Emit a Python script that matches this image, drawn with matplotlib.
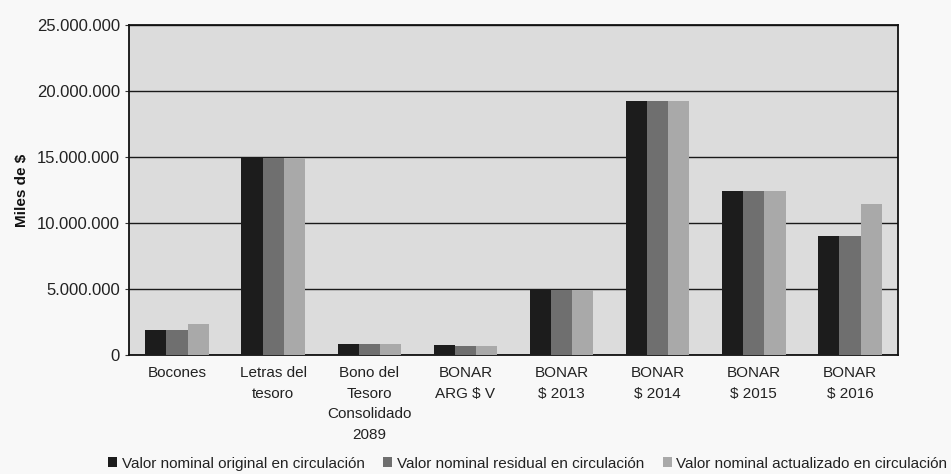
import matplotlib
matplotlib.use("Agg")
import matplotlib.pyplot as plt
import numpy as np
from matplotlib.ticker import FuncFormatter
from matplotlib import font_manager

categories = ["Bocones", "Letras del\ntesoro", "Bono del\nTesoro\nConsolidado\n2089",
              "BONAR\nARG $ V", "BONAR\n$ 2013", "BONAR\n$ 2014", "BONAR\n$ 2015", "BONAR\n$ 2016"]
original = [1.9, 14.9, 0.85, 0.72, 4.9, 19.25, 12.45, 9.05]
residual = [1.9, 14.9, 0.82, 0.70, 4.9, 19.25, 12.45, 9.05]
actualizado = [2.35, 14.9, 0.82, 0.70, 4.9, 19.25, 12.45, 11.45]
series_names = ["Valor nominal original en circulación",
                "Valor nominal residual en circulación",
                "Valor nominal actualizado en circulación"]

names = {f.name for f in font_manager.fontManager.ttflist}
fam = ["Liberation Sans Narrow", "DejaVu Sans"] if "Liberation Sans Narrow" in names else ["Liberation Sans", "DejaVu Sans"]
plt.rcParams['font.family'] = fam

fig = plt.figure(figsize=(9.51, 4.74), dpi=100)
fig.patch.set_facecolor("#f8f8f8")
ax = fig.add_axes([129/951, 1-355/474, (898-129)/951, (355-25)/474])
ax.set_facecolor("#dcdcdc")

x = np.arange(len(categories))
w = 0.22
colors = ["#1c1c1c", "#6f6f6f", "#a9a9a9"]
for i, (vals, c, n) in enumerate(zip([original, residual, actualizado], colors, series_names)):
    ax.bar(x + (i-1)*w, np.array(vals)*1e6, width=w, color=c, label=n, zorder=3)

ax.set_ylim(0, 25e6)
ax.set_xlim(-0.5, len(categories)-0.5)
ax.set_yticks(np.arange(0, 25e6+1, 5e6))
ax.yaxis.set_major_formatter(FuncFormatter(lambda v, p: f"{int(v):,}".replace(",", ".")))
ax.yaxis.grid(True, color="#1a1a1a", linewidth=1.0, zorder=1)
ax.set_axisbelow(True)
ax.set_xticks(x)
ax.set_xticklabels(categories, fontsize=11, color="#222222", linespacing=1.6)
ax.tick_params(axis="x", length=0, pad=8)
ax.tick_params(axis="y", labelsize=12, labelcolor="#222222", length=3, color="#333333")
for s in ax.spines.values():
    s.set_color("#111111")
    s.set_linewidth(1.3)
ax.set_ylabel("Miles de $", fontsize=11, fontweight="bold", color="#111111", labelpad=6,
              family=["Liberation Sans", "DejaVu Sans"])

fig.legend(loc="center", bbox_to_anchor=(0.555, 0.022), ncol=3, frameon=False,
           fontsize=11, handlelength=0.6, handleheight=0.6, handletextpad=0.3,
           columnspacing=1.2, labelcolor="#222222")

fig.savefig("out.png", dpi=100, facecolor=fig.get_facecolor())
